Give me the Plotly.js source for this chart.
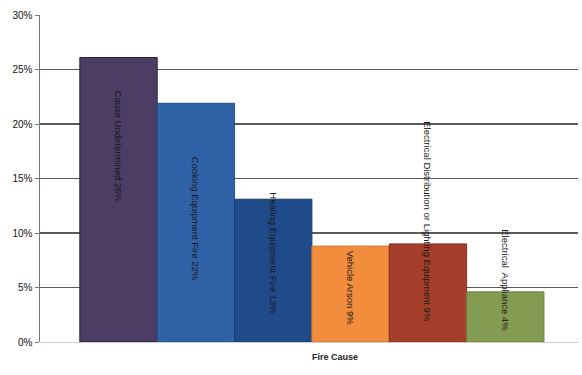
<!DOCTYPE html>
<html><head><meta charset="utf-8">
<script src="https://cdn.plot.ly/plotly-3.0.1.min.js"></script>
<style>html,body{margin:0;padding:0;background:#fff}#chart{width:582px;height:375px}</style>
</head><body><div id="chart"></div>
<script>
// Data
const causes = ["Cause Undetermined", "Cooking Equipment Fire", "Heating Equipment Fire", "Vehicle Arson", "Electrical Distribution or Lighting Equipment", "Electrical  Appliance"];
const shares = [0.261, 0.219, 0.131, 0.088, 0.090, 0.046];
const pctLabels = ["26%", "22%", "13%", "9%", "9%", "4%"];
const tickVals = [0, 0.05, 0.10, 0.15, 0.20, 0.25, 0.30];
const tickText = ["0%", "5%", "10%", "15%", "20%", "25%", "30%"];
const axisTitle = "Fire Cause";

// Styling
const colors = ["#4b3d63", "#2f62a6", "#1f4b8a", "#f28d3e", "#a53f2b", "#849c52"];
const lineColors = ["#2a2030", "#24508a", "#183c70", "#d8762c", "#84301f", "#6c8242"];
const labelTop = [0.233, 0.172, 0.139, 0.086, 0.204, 0.105];

const idx = causes.map((c, i) => i);
const trace = {
  type: "bar", x: idx, y: shares,
  marker: {color: colors, line: {color: lineColors, width: 1}},
  hoverinfo: "skip"
};

const annotations = causes.map((c, i) => ({
  x: i, y: labelTop[i], xref: "x", yref: "y",
  text: c + " " + pctLabels[i], textangle: 90,
  showarrow: false, yanchor: "top", xanchor: "center",
  font: {family: "Liberation Sans, Arial, sans-serif", size: 9.5, color: "#1a1a1a"}
}));
annotations.push({
  x: 2.8, y: 0, xref: "x", yref: "paper", yshift: -22,
  text: "<b>" + axisTitle + "</b>", showarrow: false,
  font: {family: "Liberation Sans, Arial, sans-serif", size: 9, color: "#222"}
});

const layout = {
  width: 582, height: 375,
  margin: {l: 40, r: 4, t: 15, b: 33},
  paper_bgcolor: "#fff", plot_bgcolor: "#fff",
  bargap: 0,
  showlegend: false,
  xaxis: {range: [-1.015, 5.94], showticklabels: false, ticks: "", showgrid: false, zeroline: false, showline: false, fixedrange: true},
  yaxis: {range: [0, 0.30], tickvals: tickVals, ticktext: tickText,
    ticks: "outside", ticklen: 4, tickcolor: "#777",
    showgrid: true, gridcolor: "#5a5a5a", gridwidth: 1.5,
    zeroline: true, zerolinecolor: "#ccc", zerolinewidth: 1,
    showline: true, linecolor: "#777", linewidth: 1.5,
    tickfont: {family: "Liberation Sans, Arial, sans-serif", size: 10, color: "#111"}},
  annotations: annotations
};

Plotly.newPlot("chart", [trace], layout, {displayModeBar: false, staticPlot: true});
</script>
</body></html>
